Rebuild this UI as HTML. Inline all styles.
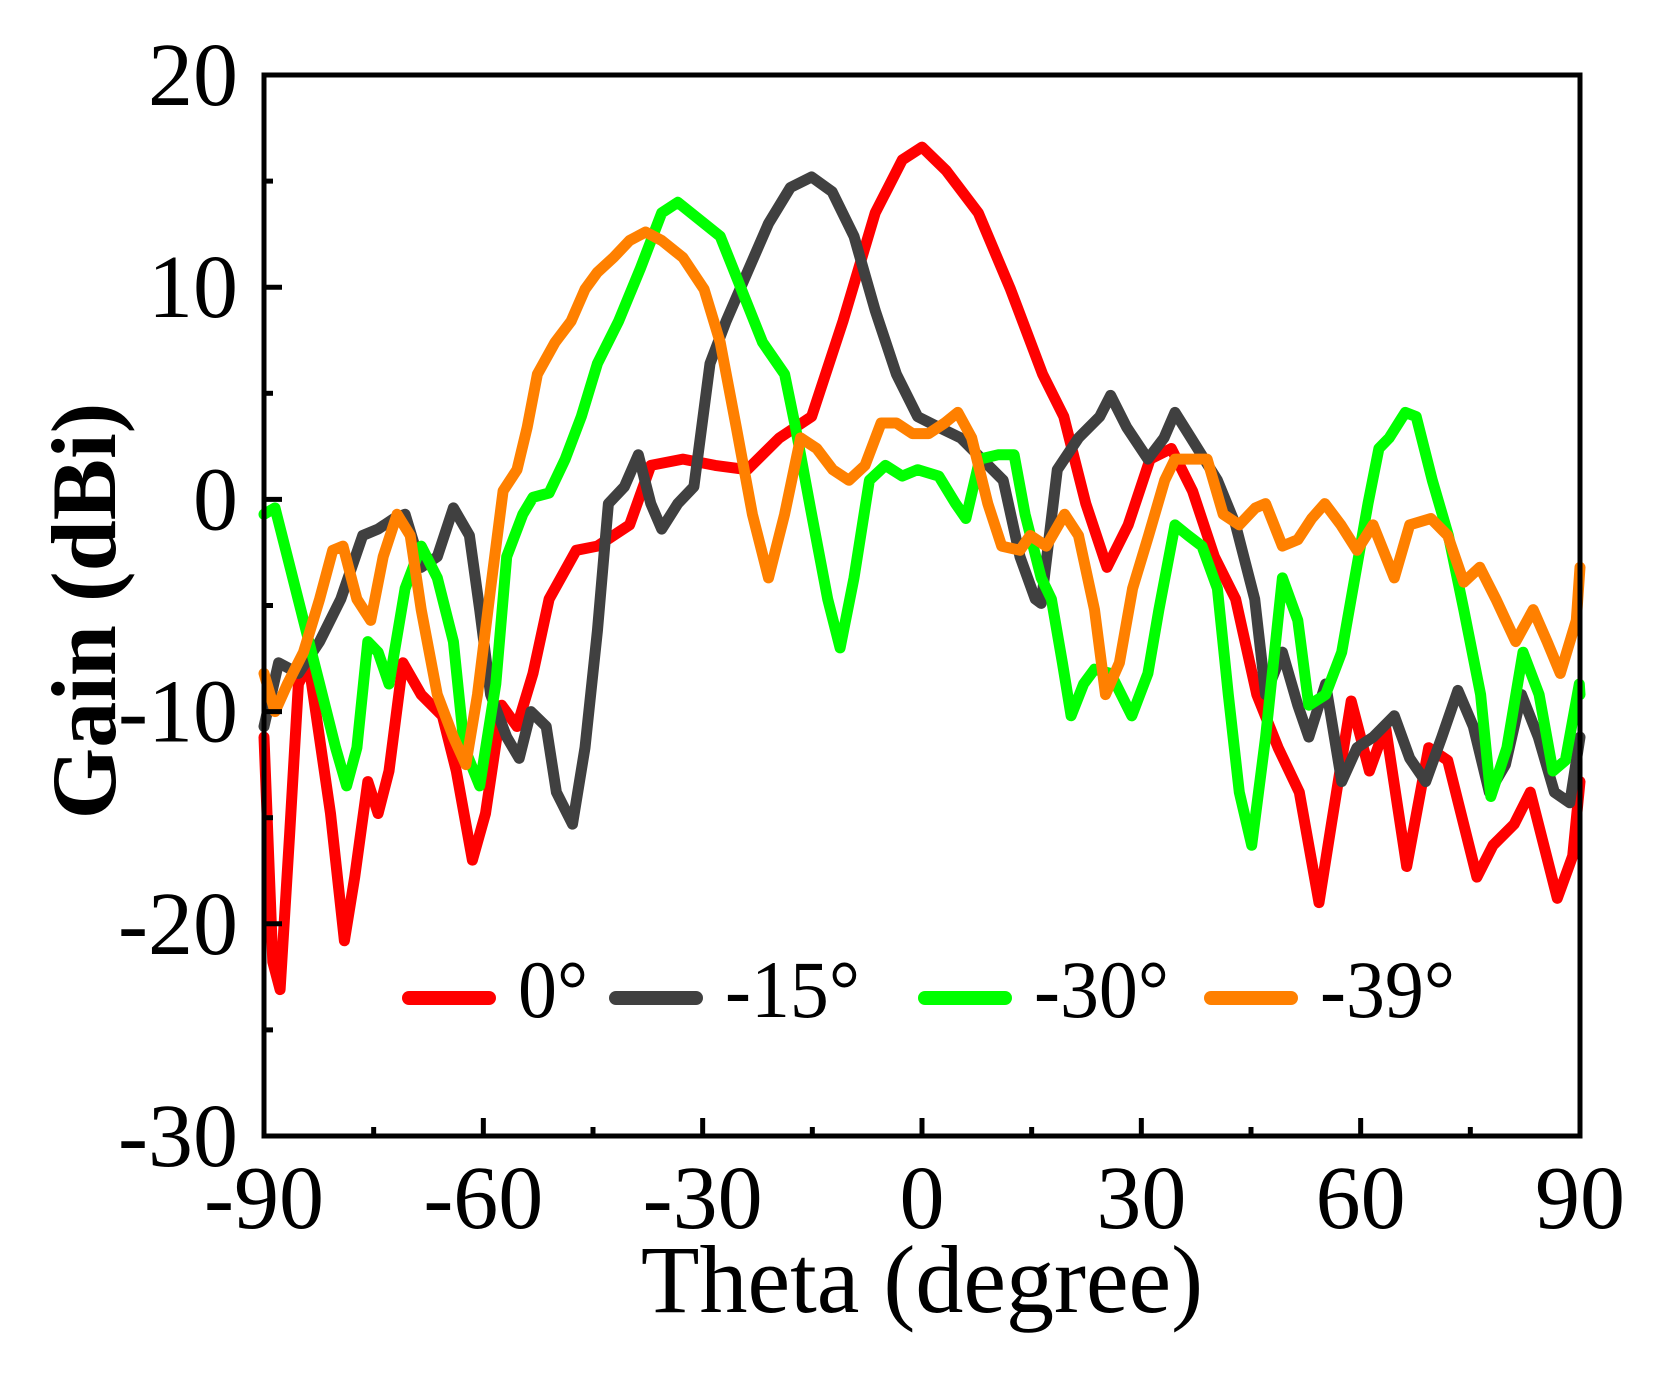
<!DOCTYPE html>
<html><head><meta charset="utf-8"><style>
body{margin:0;background:#fff;}
svg{display:block;font-family:"Liberation Serif",serif;}
</style></head><body>
<svg id="chart" width="1667" height="1373" viewBox="0 0 1667 1373"></svg>
<script>
const xTicks=[-90,-60,-30,0,30,60,90];
const yTicks=[20,10,0,-10,-20,-30];
const redTheta=[-90,-88.8,-87.8,-86.5,-85.3,-83.9,-80.9,-79,-77.6,-75.8,-74.4,-72.9,-71,-68.5,-65.6,-63.7,-61.5,-59.7,-57.5,-55.4,-53.2,-51,-47.3,-44.4,-40,-37.1,-32.7,-28.3,-23.9,-19.5,-15.1,-10.8,-6.4,-2.7,0,3.3,7.7,12.1,16.5,19.4,22.4,25.3,28.2,31.2,34.1,37,40,42.9,45.8,48.7,51.6,54.3,56,58.7,61.2,63.4,66.3,69.3,71.9,75.9,78.1,81,83.2,86.9,89,90];
const redGain=[-11.2,-21.8,-23.1,-15.8,-8.7,-7.7,-14.8,-20.8,-17.8,-13.3,-14.8,-12.8,-7.7,-9.2,-10.2,-12.8,-17,-14.8,-9.7,-10.7,-8.2,-4.7,-2.4,-2.2,-1.2,1.6,1.9,1.6,1.4,2.9,3.9,8.4,13.5,16,16.6,15.5,13.5,9.9,5.9,3.9,-0.2,-3.2,-1.2,1.9,2.4,0.4,-2.7,-4.7,-9.2,-11.7,-13.8,-19,-15.3,-9.5,-12.8,-10.7,-17.3,-11.7,-12.3,-17.8,-16.3,-15.3,-13.8,-18.8,-16.8,-13.3];
const grayTheta=[-90,-88,-85.3,-82.4,-79.5,-76.5,-74.4,-72.2,-70.7,-68.5,-66.3,-64.1,-61.9,-60.5,-59,-56.8,-55.1,-53.5,-51.4,-50,-47.8,-46.1,-44.4,-42.9,-40.7,-38.8,-37.1,-35.6,-33.4,-31.2,-29,-26.8,-23.9,-21,-18,-15.1,-12.3,-9.3,-6.4,-3.5,-0.6,2.3,5.3,8.2,11.1,13.4,15.5,16.3,18.5,21.4,24.3,25.8,28,30.9,33.1,34.6,36.8,40.4,42.9,45.5,47,49.3,51.4,52.9,55.2,57.4,59.5,61.7,64.6,66.7,68.9,71.1,73.3,75.4,77.6,79.8,82,84.3,86.5,88.6,90];
const grayGain=[-10.7,-7.7,-8.2,-6.7,-4.7,-1.7,-1.4,-0.9,-0.7,-3.2,-2.7,-0.4,-1.7,-5.2,-9.2,-11.2,-12.2,-10,-10.7,-13.8,-15.3,-11.7,-6.2,-0.2,0.6,2.1,-0.2,-1.4,-0.2,0.6,6.4,8.4,10.7,13,14.7,15.2,14.5,12.4,8.9,5.9,3.9,3.4,2.9,1.9,0.9,-2.7,-4.7,-4.9,1.4,2.9,3.9,4.9,3.4,1.9,2.9,4.1,2.9,0.9,-1.2,-4.7,-9.2,-7.2,-9.7,-11.2,-8.7,-13.3,-11.7,-11.2,-10.2,-12.2,-13.3,-11.2,-9,-10.7,-13.8,-12.5,-9.2,-11.2,-13.8,-14.3,-11.2];
const greenTheta=[-90,-88.5,-86.8,-84.6,-82.4,-80.2,-78.7,-77.3,-75.8,-74.4,-72.9,-70.7,-68.5,-66.3,-64.1,-62.6,-60.5,-58.3,-56.8,-54.6,-53.2,-51,-48.8,-46.6,-44.4,-41.5,-38.5,-35.6,-33.4,-30.5,-27.6,-24.7,-21.8,-18.8,-17.3,-15.1,-12.9,-11.2,-9.3,-7.2,-5,-2.7,-0.6,2.3,4.6,6,7.9,10.4,12.6,14.1,16.3,17.7,19.2,20.4,22.1,23.6,25.8,28.7,30.9,32.4,34.6,36.4,38.3,40.4,41.9,43.4,45.1,47,49.3,51.4,52.9,55.2,57.4,59.2,61,62.5,63.9,66.1,67.6,69.8,72,74.1,76.4,77.8,80,82.2,84.4,86.3,88,89.9,90];
const greenGain=[-0.7,-0.4,-2.7,-5.7,-8.7,-11.7,-13.5,-11.7,-6.7,-7.2,-8.7,-4.2,-2.2,-3.7,-6.7,-11.7,-13.5,-8.7,-2.7,-0.7,0.1,0.3,1.9,3.9,6.4,8.4,10.9,13.5,14,13.2,12.4,9.9,7.4,5.9,3.4,-0.7,-4.7,-7,-3.7,0.9,1.6,1.1,1.4,1.1,-0.2,-0.9,1.9,2.1,2.1,-0.7,-3.7,-4.7,-7.7,-10.2,-8.7,-8,-8.2,-10.2,-8.2,-5.2,-1.2,-1.7,-2.2,-4.2,-9.2,-13.8,-16.3,-11.2,-3.7,-5.7,-9.7,-9.2,-7.2,-3.7,-0.2,2.4,2.9,4.1,3.9,0.9,-1.7,-5.2,-9.2,-14,-11.7,-7.2,-9.2,-12.8,-12.3,-8.7,-9.2];
const orangeTheta=[-90,-88.5,-86.8,-84.6,-82.4,-80.6,-79.2,-77.3,-75.4,-73.7,-71.8,-70,-68.5,-66.3,-64.1,-62.4,-60.8,-59,-57.3,-55.4,-54,-52.6,-50.2,-48,-46.1,-44.4,-42.2,-40,-37.8,-35.6,-32.7,-29.8,-27.6,-25.4,-23.2,-21,-18.8,-16.6,-14.4,-12.2,-10,-7.8,-5.6,-3.5,-1.3,0.9,3.1,4.9,6.8,9,10.9,13.4,14.8,17,19.5,21.4,23.6,25.1,27,28.8,31,33.2,34.6,36.8,39,41.2,43.4,45.6,47,49.3,51.4,53.3,55.1,57.3,59.5,61.7,64.6,66.7,69.6,71.9,74.1,76.3,78.5,81.2,83.6,85.5,87.3,89.5,90];
const orangeGain=[-8.2,-10,-8.7,-7.2,-4.7,-2.4,-2.2,-4.7,-5.7,-2.7,-0.7,-1.7,-5.2,-9.2,-11.2,-12.5,-9.2,-4.2,0.4,1.4,3.4,5.9,7.4,8.4,9.9,10.7,11.4,12.2,12.6,12.2,11.4,9.9,7.4,3.4,-0.7,-3.7,-0.7,2.9,2.4,1.4,0.9,1.6,3.6,3.6,3.1,3.1,3.6,4.1,2.9,-0.2,-2.2,-2.4,-1.7,-2.2,-0.7,-1.7,-5.2,-9.2,-7.7,-4.2,-1.7,0.9,1.9,1.9,1.9,-0.7,-1.2,-0.4,-0.2,-2.2,-1.9,-0.9,-0.2,-1.2,-2.4,-1.2,-3.7,-1.2,-0.9,-1.7,-3.9,-3.2,-4.7,-6.7,-5.2,-6.7,-8.2,-5.7,-3.2];
const legendLabels=["0°","-15°","-30°","-39°"];

const svg=document.getElementById('chart');
const NS='http://www.w3.org/2000/svg';
const X0=264,X1=1580,Y0=75,Y1=1136;
function sx(v){return X0+(v+90)/180*(X1-X0);}
function sy(v){return Y0+(20-v)/50*(Y1-Y0);}
function mk(tag,attrs,parent){const e=document.createElementNS(NS,tag);for(const k in attrs)e.setAttribute(k,attrs[k]);(parent||svg).appendChild(e);return e;}

const series=[[redTheta,redGain,'#ff0000','series-0deg'],[grayTheta,grayGain,'#404040','series-minus15deg'],[greenTheta,greenGain,'#00ff00','series-minus30deg'],[orangeTheta,orangeGain,'#ff8000','series-minus39deg']];
series.forEach(s=>{
  const d=s[0].map((t,i)=>(i?'L':'M')+sx(t).toFixed(1)+' '+sy(s[1][i]).toFixed(1)).join(' ');
  const p=mk('path',{d:d,fill:'none',stroke:s[2],'stroke-width':11,'stroke-linejoin':'round','stroke-linecap':'round'});
  
  
});

const fr=mk('rect',{x:X0,y:Y0,width:X1-X0,height:Y1-Y0,fill:'none',stroke:'#000','stroke-width':5});



for(let v=-90;v<=90;v+=15){
  const major=v%30===0;
  const t=mk('line',{x1:sx(v),x2:sx(v),y1:Y1,y2:Y1-(major?18:9),stroke:'#000','stroke-width':5});
  
  
}
xTicks.forEach(v=>{
  const t=mk('text',{x:sx(v),y:1228,'text-anchor':'middle','font-size':90});
  t.textContent=v;
  
  
});
for(let v=-30;v<=20;v+=5){
  const major=v%10===0;
  const t=mk('line',{x1:X0,x2:X0+(major?18:9),y1:sy(v),y2:sy(v),stroke:'#000','stroke-width':5});
  
  
}
yTicks.forEach(v=>{
  const t=mk('text',{x:238,y:sy(v)+30,'text-anchor':'end','font-size':90});
  t.textContent=v;
  
  
});

const xt=mk('text',{x:922,y:1312,'text-anchor':'middle','font-size':96});
xt.textContent='Theta (degree)';


const yt=mk('text',{x:0,y:0,'text-anchor':'middle','font-size':92,'font-weight':'bold',transform:'translate(115,611) rotate(-90)'});
yt.textContent='Gain (dBi)';



const legX=[403,610,919,1205];
const lg=mk('g',{});


series.forEach((s,i)=>{
  const l=mk('line',{x1:legX[i]+6,x2:legX[i]+86,y1:998,y2:998,stroke:s[2],'stroke-width':14,'stroke-linecap':'round'},lg);
  
  
  const t=mk('text',{x:0,y:0,'font-size':82,transform:'translate('+(legX[i]+115)+',1017) scale(0.95,1)'},lg);
  t.textContent=legendLabels[i];
  
  
});
</script>
</body></html>
